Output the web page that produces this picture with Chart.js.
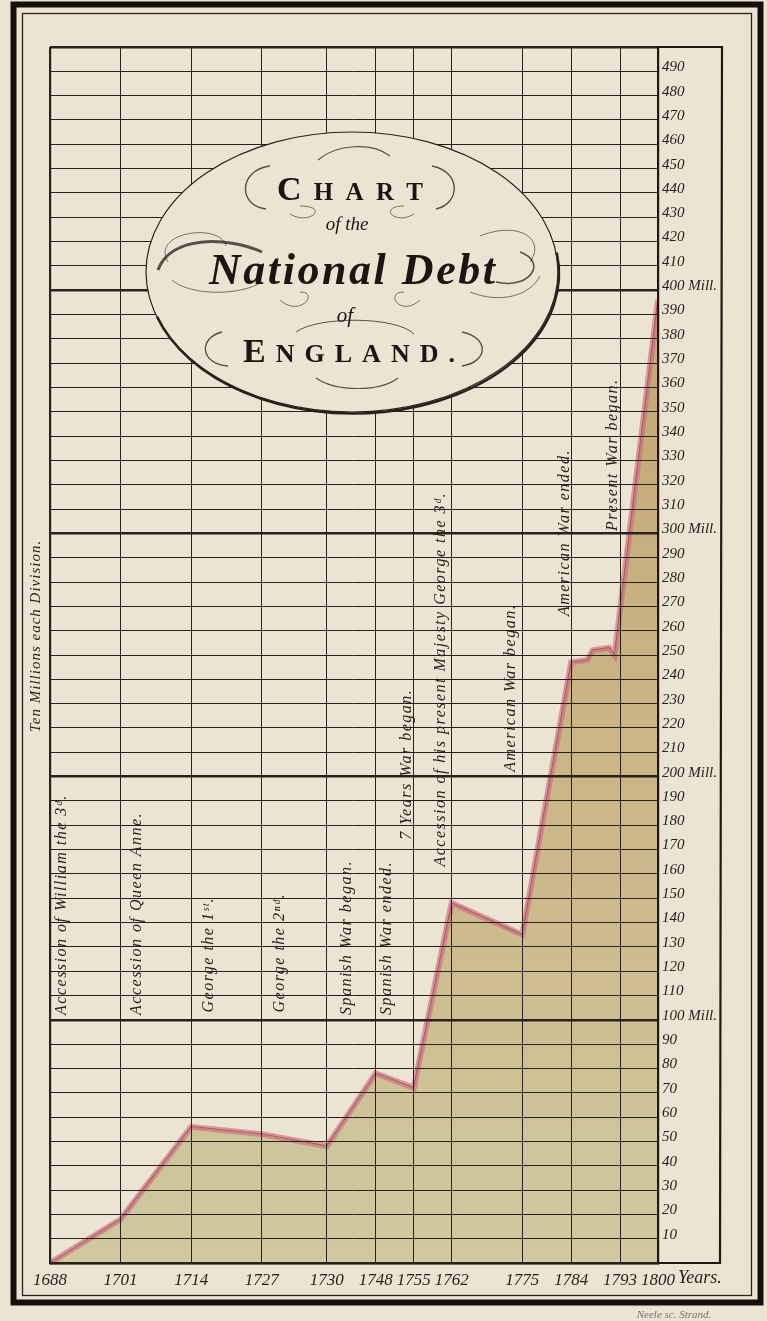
<!DOCTYPE html>
<html>
<head>
<meta charset="utf-8">
<script src="https://cdn.jsdelivr.net/npm/chart.js@4.4.0/dist/chart.umd.min.js"></script>
<style>
  html, body { margin: 0; padding: 0; background: #ece4d3; }
  #wrap { width: 767px; height: 1321px; }
</style>
</head>
<body>
<div id="wrap"><canvas id="debt" width="767" height="1321"></canvas></div>
<script>
// years where the debt line turns
const years = [1688, 1701, 1714, 1727, 1739, 1748, 1755, 1762, 1775, 1784, 1787, 1788, 1791, 1792, 1800];
// national debt, millions
const debt = [0, 18, 56, 53, 48, 78, 72, 148, 135, 247, 248, 252, 253, 250, 396];

// vertical rules along the bottom and what is engraved under them
const tickYears = [1688, 1701, 1714, 1727, 1739, 1748, 1755, 1762, 1775, 1784, 1793, 1800];
const tickLabels = ['1688', '1701', '1714', '1727', '1730', '1748', '1755', '1762', '1775', '1784', '1793', '1800'];

// notes written up the columns
const eventNames = [
  'Accession of William the 3ᵈ.',
  'Accession of Queen Anne.',
  'George the 1ˢᵗ.',
  'George the 2ⁿᵈ.',
  'Spanish War began.',
  'Spanish War ended.',
  '7 Years War began.',
  'Accession of his present Majesty George the 3ᵈ.',
  'American War began.',
  'American War ended.',
  'Present War began.'
];
const eventYears = [1688, 1701, 1714, 1727, 1739, 1748, 1755, 1762, 1775, 1784, 1793];
const eventLevels = [102, 102, 103, 103, 102, 102, 174, 163, 202, 266, 301];

const ink = '#2b211c';
const paper = '#ece4d3';

// side nudge of each note from its rule, px
const eventNudge = [12, 16, 18, 18, 20, 11, -7, -11, -11, -6, -7];

function spacedLine(ctx, parts, cx, y, width) {
  // parts: [text, font]; spreads letters to fill width
  const chars = [];
  parts.forEach(p => [...p[0]].forEach(c => { ctx.font = p[1]; chars.push([c, p[1], ctx.measureText(c).width]); }));
  const w = chars.reduce((s, c) => s + c[2], 0);
  const gap = chars.length > 1 ? (width - w) / (chars.length - 1) : 0;
  let x = cx - width / 2;
  ctx.textAlign = 'left';
  chars.forEach(c => { ctx.font = c[1]; ctx.fillText(c[0], x, y); x += c[2] + gap; });
}

function curve(ctx, pts, lw) {
  ctx.lineWidth = lw;
  ctx.beginPath();
  ctx.moveTo(pts[0], pts[1]);
  ctx.bezierCurveTo(pts[2], pts[3], pts[4], pts[5], pts[6], pts[7]);
  ctx.stroke();
}

const engraving = {
  id: 'engraving',
  beforeDraw(chart) {
    const ctx = chart.ctx;
    ctx.save();
    ctx.fillStyle = paper;
    ctx.fillRect(0, 0, chart.width, chart.height);
    ctx.restore();
  },
  afterDraw(chart) {
    const ctx = chart.ctx;
    const ca = chart.chartArea;
    const xs = chart.scales.x, ys = chart.scales.y;
    ctx.save();

    // frame
    ctx.strokeStyle = '#15100d';
    ctx.lineWidth = 6;
    ctx.strokeRect(13.5, 4.5, 747, 1298);
    ctx.lineWidth = 1.3;
    ctx.strokeStyle = ink;
    ctx.strokeRect(22.5, 13.5, 729, 1282);

    // panel for the scale figures
    ctx.lineWidth = 2.2;
    ctx.strokeStyle = '#1f1814';
    ctx.beginPath();
    ctx.moveTo(ca.right, ca.top);
    ctx.lineTo(722, ca.top);
    ctx.lineTo(720, ca.bottom);
    ctx.lineTo(ca.right, ca.bottom);
    ctx.stroke();

    // notes up the columns
    ctx.fillStyle = ink;
    ctx.font = 'italic 16px "Liberation Serif", "DejaVu Serif", serif';
    ctx.letterSpacing = '1.5px';
    ctx.textAlign = 'left';
    ctx.textBaseline = 'middle';
    eventNames.forEach((name, i) => {
      const x = xs.getPixelForValue(eventYears[i]) + eventNudge[i];
      const y = ys.getPixelForValue(eventLevels[i]);
      ctx.save();
      ctx.translate(x, y);
      ctx.rotate(-Math.PI / 2);
      ctx.fillText(name, 0, 0);
      ctx.restore();
    });

    ctx.font = 'italic 15px "Liberation Serif", "DejaVu Serif", serif';
    ctx.letterSpacing = '1px';
    ctx.save();
    ctx.translate(36, 636);
    ctx.rotate(-Math.PI / 2);
    ctx.textAlign = 'center';
    ctx.fillText('Ten Millions each Division.', 0, 0);
    ctx.restore();
    ctx.letterSpacing = '0px';

    // "Years." after the last date
    ctx.font = 'italic 17px "Liberation Serif", "DejaVu Serif", serif';
    const x1800 = xs.getPixelForValue(1800);
    const half = ctx.measureText('1800').width / 2;
    ctx.textAlign = 'left';
    ctx.font = 'italic 18px "Liberation Serif", "DejaVu Serif", serif';
    ctx.fillText('Years.', x1800 + half + 3, 1278);

    ctx.font = 'italic 11px "Liberation Serif", serif';
    ctx.fillStyle = '#77706a';
    ctx.textAlign = 'center';
    ctx.fillText('Neele sc. Strand.', 674, 1315);

    // title cartouche
    const cx = 352, cy = 272;
    ctx.fillStyle = paper;
    ctx.beginPath();
    ctx.ellipse(cx, cy, 206, 140, 0, 0, Math.PI * 2);
    ctx.fill();
    ctx.strokeStyle = ink;
    ctx.lineWidth = 1.2;
    ctx.stroke();
    ctx.lineWidth = 2.6;
    ctx.beginPath();
    ctx.ellipse(cx + 1, cy + 1.5, 206, 140, 0, -0.15, Math.PI * 0.9);
    ctx.stroke();

    // flourishes
    ctx.strokeStyle = 'rgba(40,30,25,0.75)';
    curve(ctx, [270, 166, 238, 170, 238, 206, 266, 209], 1.4);
    curve(ctx, [432, 166, 462, 172, 460, 204, 436, 209], 1.4);
    curve(ctx, [318, 160, 336, 144, 372, 142, 390, 156], 1.1);
    curve(ctx, [290, 214, 310, 226, 330, 206, 300, 206], 0.8);
    curve(ctx, [414, 214, 394, 226, 378, 206, 404, 206], 0.8);
    curve(ctx, [158, 270, 170, 236, 226, 236, 262, 252], 3);
    curve(ctx, [168, 262, 150, 232, 220, 222, 226, 246], 0.8);
    curve(ctx, [172, 280, 190, 296, 240, 296, 262, 282], 0.8);
    curve(ctx, [496, 282, 530, 290, 548, 262, 520, 252], 1.6);
    curve(ctx, [480, 236, 520, 220, 546, 240, 530, 262], 0.8);
    curve(ctx, [470, 292, 500, 304, 530, 296, 540, 276], 0.8);
    curve(ctx, [280, 300, 300, 318, 320, 292, 300, 292], 0.8);
    curve(ctx, [420, 300, 400, 318, 384, 292, 404, 292], 0.8);
    curve(ctx, [222, 332, 198, 338, 200, 364, 228, 366], 1.4);
    curve(ctx, [462, 332, 490, 338, 488, 362, 462, 366], 1.4);
    curve(ctx, [296, 332, 318, 316, 396, 316, 414, 334], 1.0);
    curve(ctx, [316, 378, 336, 392, 380, 392, 398, 378], 1.1);

    ctx.fillStyle = '#1c1512';
    ctx.textBaseline = 'alphabetic';
    spacedLine(ctx, [['C', 'bold 34px "Liberation Serif", serif'], ['HART', 'bold 25px "Liberation Serif", serif']], 350, 200, 146);
    ctx.font = 'italic 19px "Liberation Serif", serif';
    ctx.textAlign = 'center';
    ctx.fillText('of the', 347, 230);
    spacedLine(ctx, [['National Debt', 'bold italic 44px "Liberation Serif", serif']], 352, 284, 286);
    ctx.font = 'italic 21px "Liberation Serif", serif';
    ctx.textAlign = 'center';
    ctx.fillText('of', 345, 322);
    spacedLine(ctx, [['E', 'bold 34px "Liberation Serif", serif'], ['NGLAND.', 'bold 26px "Liberation Serif", serif']], 349, 362, 212);

    ctx.restore();
  }
};

const canvas = document.getElementById('debt');
const points = years.map((yr, i) => ({x: yr, y: debt[i]}));

const chart = new Chart(canvas, {
  type: 'line',
  data: {
    datasets: [
      {
        label: 'wash',
        data: points,
        borderColor: 'rgba(206,108,128,0.65)',
        borderWidth: 6,
        fill: 'origin',
        backgroundColor: (c) => {
          const ca = c.chart.chartArea;
          if (!ca) return 'rgba(198,178,124,0.8)';
          const g = c.chart.ctx.createLinearGradient(0, ca.top + 250, 0, ca.bottom);
          g.addColorStop(0, 'rgba(188,156,100,0.85)');
          g.addColorStop(0.55, 'rgba(196,172,118,0.8)');
          g.addColorStop(1, 'rgba(200,194,148,0.8)');
          return g;
        },
        pointRadius: 0,
        tension: 0
      },
      {
        label: 'National Debt',
        data: points,
        borderColor: '#3a1e1e',
        borderWidth: 1.4,
        fill: false,
        pointRadius: 0,
        tension: 0
      }
    ]
  },
  options: {
    responsive: false,
    animation: false,
    devicePixelRatio: 1,
    layout: { padding: { left: 50, top: 47, right: 0, bottom: 0 } },
    plugins: { legend: { display: false }, tooltip: { enabled: false } },
    scales: {
      x: {
        type: 'linear',
        min: 1688,
        max: 1800,
        afterBuildTicks: (s) => { s.ticks = tickYears.map(v => ({value: v})); },
        afterFit: (s) => { s.height = 58; },
        ticks: {
          autoSkip: false,
          maxRotation: 0,
          padding: 7,
          color: ink,
          font: { family: '"Liberation Serif", "DejaVu Serif", serif', style: 'italic', size: 17 },
          callback: (v, i) => tickLabels[i]
        },
        grid: {
          z: 1,
          drawTicks: false,
          color: ink,
          lineWidth: (c) => (c.tick && c.tick.value === 1688) ? 2.2 : 1
        },
        border: { z: 1, color: '#1f1814', width: 2.2 }
      },
      y: {
        position: 'right',
        min: 0,
        max: 500,
        afterFit: (s) => { s.width = 109; },
        ticks: {
          stepSize: 10,
          autoSkip: false,
          padding: 4,
          labelOffset: -4,
          color: ink,
          font: { family: '"Liberation Serif", "DejaVu Serif", serif', style: 'italic', size: 15 },
          callback: (v) => (v === 0 || v === 500) ? '' : (v % 100 === 0 ? v + ' Mill.' : String(v))
        },
        grid: {
          z: 1,
          drawTicks: false,
          color: ink,
          lineWidth: (c) => (c.tick && c.tick.value % 100 === 0) ? 2.6 : 1
        },
        border: { z: 1, color: '#1f1814', width: 2.2 }
      }
    }
  },
  plugins: [engraving]
});
</script>
</body>
</html>
